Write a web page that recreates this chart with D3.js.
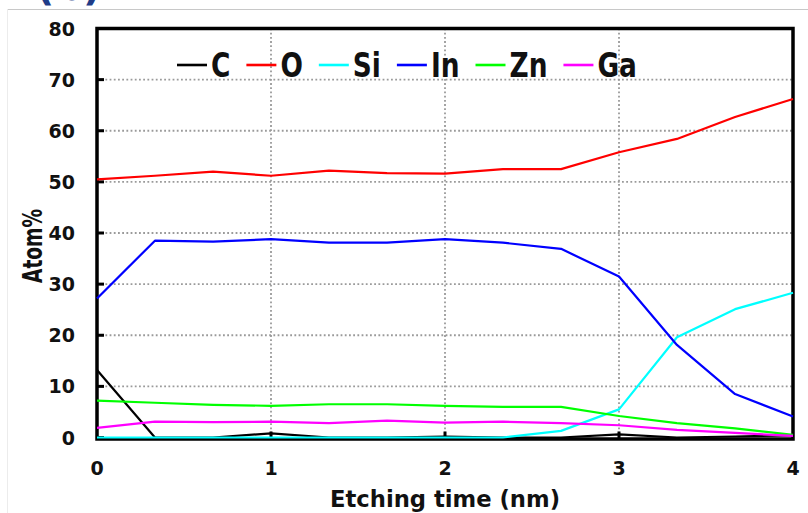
<!DOCTYPE html>
<html>
<head>
<meta charset="utf-8">
<script src="https://cdn.jsdelivr.net/npm/d3@7"></script>
<style>
  html, body { margin: 0; padding: 0; background: #fff; }
  svg { display: block; }
  text { font-family: 'DejaVu Sans', Verdana, sans-serif; font-weight: bold; fill: #111; }
</style>
</head>
<body>
<div class="canvas"></div>
<script>
// etching time (nm) and atom% per element
const time = [0, 0.333, 0.667, 1, 1.333, 1.667, 2, 2.333, 2.667, 3, 3.333, 3.667, 4];
const C  = [13.2, 0, 0, 0.8, 0, 0, 0.2, 0, 0, 0.6, 0, 0.2, 0.4];
const O  = [50.5, 51.2, 52.0, 51.2, 52.2, 51.7, 51.6, 52.5, 52.5, 55.8, 58.4, 62.7, 66.2];
const Si = [0, 0, 0, 0, 0, 0, 0, 0, 1.3, 5.5, 19.6, 25.1, 28.3];
const In = [27.2, 38.5, 38.3, 38.8, 38.1, 38.1, 38.8, 38.1, 36.9, 31.5, 18.1, 8.5, 4.1];
const Zn = [7.2, 6.8, 6.4, 6.2, 6.5, 6.5, 6.2, 6.0, 6.0, 4.2, 2.8, 1.8, 0.5];
const Ga = [1.9, 3.1, 3.0, 3.1, 2.8, 3.3, 2.9, 3.1, 2.8, 2.4, 1.5, 0.9, 0.3];

const names = ['C', 'O', 'Si', 'In', 'Zn', 'Ga'];
const colours = ['#000000', '#ff0000', '#00ffff', '#0000ff', '#00ff00', '#ff00ff'];
const xTicks = [0, 1, 2, 3, 4];
const yTicks = [0, 10, 20, 30, 40, 50, 60, 70, 80];

const series = [C, O, Si, In, Zn, Ga].map((vals, i) => ({
    name: names[i],
    colour: colours[i],
    points: vals.map((v, j) => ({ t: time[j], v: v }))
}));

const dims = { width: 808, height: 513, left: 97, right: 793, top: 28.5, bottom: 437.5 };

const svg = d3.select('.canvas')
    .append('svg')
    .attr('width', dims.width)
    .attr('height', dims.height);

const x = d3.scaleLinear().domain([0, 4]).range([dims.left, dims.right]);
const y = d3.scaleLinear().domain([0, 80]).range([dims.bottom, dims.top]);

// outer panel edge and panel label (cut by the top edge, as in the source)
svg.append('line')
    .attr('x1', 7).attr('x2', dims.width).attr('y1', 9.5).attr('y2', 9.5)
    .attr('stroke', '#c8c8c8').attr('stroke-width', 1);
svg.append('line')
    .attr('x1', 7.5).attr('x2', 7.5).attr('y1', 9).attr('y2', dims.height)
    .attr('stroke', '#ececec').attr('stroke-width', 1);
svg.append('text')
    .attr('x', 36).attr('y', 0)
    .style('font-size', '40px')
    .style('fill', '#1f3c88')
    .text('(b)');

// grid
const grid = svg.append('g');
grid.selectAll('.hgrid')
    .data(yTicks.filter(d => d > 0 && d < 80))
    .enter().append('line')
    .attr('x1', dims.left).attr('x2', dims.right)
    .attr('y1', d => y(d)).attr('y2', d => y(d))
    .attr('stroke', '#9a9a9a').attr('stroke-width', 1.8)
    .attr('stroke-dasharray', '1.8,2.4');
grid.selectAll('.vgrid')
    .data(xTicks.filter(d => d > 0 && d < 4))
    .enter().append('line')
    .attr('x1', d => x(d)).attr('x2', d => x(d))
    .attr('y1', dims.top).attr('y2', dims.bottom)
    .attr('stroke', '#9a9a9a').attr('stroke-width', 1.8)
    .attr('stroke-dasharray', '1.8,2.4');

// frame
svg.append('rect')
    .attr('x', dims.left).attr('y', dims.top)
    .attr('width', dims.right - dims.left)
    .attr('height', dims.bottom - dims.top + 1.5)
    .attr('fill', 'none')
    .attr('stroke', '#000').attr('stroke-width', 3.5);

// inward ticks
svg.selectAll('.ytick')
    .data(yTicks)
    .enter().append('line')
    .attr('x1', dims.left).attr('x2', dims.left + 7)
    .attr('y1', d => y(d)).attr('y2', d => y(d))
    .attr('stroke', '#000').attr('stroke-width', 3);
svg.selectAll('.xtick')
    .data(xTicks.filter(d => d > 0 && d < 4))
    .enter().append('line')
    .attr('x1', d => x(d)).attr('x2', d => x(d))
    .attr('y1', dims.bottom + 1).attr('y2', dims.bottom - 6)
    .attr('stroke', '#000').attr('stroke-width', 3);

// tick labels
svg.selectAll('.ylab')
    .data(yTicks)
    .enter().append('text')
    .attr('x', 75).attr('y', d => y(d) + 7)
    .attr('text-anchor', 'end')
    .style('font-size', '19px')
    .text(d => d);
svg.selectAll('.xlab')
    .data(xTicks)
    .enter().append('text')
    .attr('x', d => x(d)).attr('y', 475)
    .attr('text-anchor', 'middle')
    .style('font-size', '19px')
    .text(d => d);

// axis titles
svg.append('text')
    .attr('x', 445).attr('y', 507)
    .attr('text-anchor', 'middle')
    .attr('textLength', 230).attr('lengthAdjust', 'spacingAndGlyphs')
    .style('font-size', '23px')
    .text('Etching time (nm)');
svg.append('text')
    .attr('transform', 'translate(42, 246) rotate(-90)')
    .attr('text-anchor', 'middle')
    .attr('textLength', 74).attr('lengthAdjust', 'spacingAndGlyphs')
    .style('font-size', '26px')
    .text('Atom%');

// series
const line = d3.line()
    .x(d => x(d.t))
    .y(d => y(d.v));

svg.append('g').selectAll('path')
    .data(series)
    .enter().append('path')
    .attr('fill', 'none')
    .attr('stroke', d => d.colour)
    .attr('stroke-width', 2.2)
    .attr('stroke-linejoin', 'round')
    .attr('d', d => line(d.points));

// legend
const legend = svg.append('g');
let lx = 177;
series.forEach(s => {
    legend.append('line')
        .attr('x1', lx).attr('x2', lx + 30)
        .attr('y1', 65).attr('y2', 65)
        .attr('stroke', s.colour).attr('stroke-width', 2.6);
    const t = legend.append('text')
        .attr('transform', `translate(${lx + 34}, 77) scale(0.8, 1)`)
        .style('font-size', '33px')
        .text(s.name);
    const w = t.node().getComputedTextLength() * 0.8;
    lx += 34 + w + 16;
});
</script>
</body>
</html>
